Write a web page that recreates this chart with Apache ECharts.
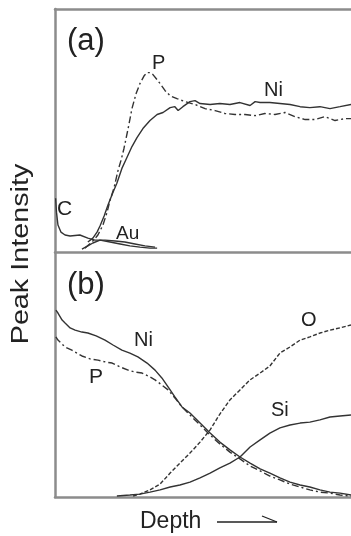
<!DOCTYPE html>
<html>
<head>
<meta charset="utf-8">
<script src="https://cdn.jsdelivr.net/npm/echarts@6/dist/echarts.min.js"></script>
<style>
  html, body { margin: 0; padding: 0; background: #fff; }
  #chart { width: 351px; height: 536px; }
</style>
</head>
<body>
<div id="chart"></div>
<script>
// Depth profiles (arbitrary units: depth 0-100, peak intensity 0-100)

// (a) as-deposited surface region
const niA = [[11.1,4.1],[12.8,5.7],[14.2,8.2],[15.2,10.7],[16.6,14.8],[17.9,19.3],[19.6,24.6],[20.9,28.3],[22.6,34.4],[24.3,38.9],[26.0,43.4],[27.7,47.1],[29.7,50.8],[32.1,54.1],[34.5,56.6],[36.5,57.4],[38.9,59.4],[40.5,59.8],[41.6,58.2],[43.2,59.8],[45.6,61.9],[47.3,62.3],[49.0,61.1],[52.4,60.7],[55.7,61.1],[59.1,60.7],[62.5,61.5],[65.9,60.3],[67.6,61.9],[69.3,61.5],[72.6,61.5],[76.0,61.1],[79.4,60.7],[82.8,59.8],[86.1,59.4],[89.5,59.8],[92.9,59.0],[96.3,59.8],[100,60.7]];
const pA = [[10.1,1.6],[12.5,4.1],[14.5,7.0],[16.2,11.1],[17.6,16.4],[18.6,21.3],[19.9,26.2],[21.3,33.6],[22.3,37.7],[23.3,42.6],[24.7,50.8],[26.0,59.0],[27.4,65.2],[28.7,69.3],[30.1,72.5],[31.1,73.8],[32.1,73.8],[33.1,73.0],[34.5,70.9],[35.5,69.3],[37.2,66.4],[38.9,64.3],[41.2,63.1],[43.9,61.9],[47.3,60.7],[50.7,59.0],[54.1,58.2],[57.4,57.0],[60.8,56.6],[64.2,56.6],[67.6,56.1],[70.9,57.0],[74.3,56.6],[77.7,57.4],[81.1,55.7],[84.5,54.5],[87.8,54.5],[91.2,55.7],[94.6,54.1],[98.0,54.9],[100,54.9]];
const cA = [[0.2,22.1],[0.5,16.4],[1.0,11.1],[2.0,8.2],[3.4,7.0],[5.1,6.6],[8.4,7.0],[11.1,5.7],[13.5,4.9],[16.9,4.9],[20.3,4.5],[23.6,4.1],[27.0,3.3],[30.4,2.5],[33.8,2.0]];
const auA = [[9.1,1.2],[11.1,2.5],[12.8,3.7],[15.2,4.9],[18.6,4.1],[22.0,3.3],[25.3,2.5],[28.7,2.0],[32.1,1.6],[34.5,1.6]];

// (b) after annealing
const niB = [[0.3,76.6],[1.0,75.4],[2.4,72.5],[3.4,71.3],[5.1,69.3],[6.8,68.4],[9.1,67.6],[11.1,67.2],[13.9,66.0],[16.9,64.3],[19.6,62.3],[22.6,60.2],[25.3,59.0],[28.0,57.4],[31.1,54.9],[33.8,52.0],[36.1,48.8],[38.2,45.1],[40.5,41.0],[42.9,36.9],[45.6,34.4],[49.0,30.3],[52.4,26.2],[55.7,22.5],[59.1,19.3],[62.5,16.4],[65.9,13.9],[69.3,11.5],[72.6,9.8],[76.0,7.8],[79.4,6.1],[82.8,4.9],[86.1,4.1],[89.5,2.9],[92.9,2.0],[96.3,1.6],[100,0.8]];
const pB = [[0.3,65.6],[1.0,64.3],[3.4,61.5],[5.7,60.2],[9.1,57.8],[11.8,56.6],[14.5,56.1],[17.2,55.3],[19.3,54.9],[22.0,53.3],[24.7,52.0],[27.0,51.2],[29.4,50.8],[32.1,49.2],[33.8,48.0],[36.1,45.9],[38.2,43.9],[40.5,40.6],[42.9,36.9],[45.6,33.6],[49.0,29.5],[52.4,25.4],[55.7,21.7],[59.1,18.4],[62.5,15.6],[65.9,12.7],[69.3,10.7],[72.6,8.6],[76.0,7.0],[79.4,5.3],[82.8,4.1],[86.1,2.9],[89.5,2.0],[92.9,1.6],[96.3,0.8],[100,0.4]];
const oB = [[26.4,0.4],[28.7,1.2],[32.1,2.9],[35.5,5.3],[38.9,9.8],[42.2,13.9],[45.6,18.0],[49.0,22.5],[52.4,27.5],[55.7,34.0],[59.1,39.8],[62.5,43.9],[65.9,48.0],[69.3,50.8],[72.6,53.7],[76.0,59.0],[79.4,61.5],[82.8,64.3],[86.1,65.6],[89.5,67.2],[92.9,68.4],[96.3,69.3],[100,70.5]];
const siB = [[20.9,0.4],[25.3,0.8],[28.7,1.2],[32.1,2.0],[35.5,2.9],[38.9,4.1],[42.2,4.9],[45.6,6.1],[49.0,7.8],[52.4,9.8],[55.7,11.9],[59.1,13.9],[62.5,16.4],[65.9,20.5],[69.3,23.4],[72.6,26.2],[76.0,28.3],[79.4,29.5],[82.8,30.3],[86.1,30.7],[89.5,31.6],[92.9,32.8],[96.3,33.2],[100,33.6]];

const INK = '#333333';
const FRAME = '#8c8c8c';
const SOLID = 'solid';
const DASHDOT = [7, 3, 2, 3];
const DASH = [4, 2];

function line(data, grid, type) {
  return {
    type: 'line', data: data, xAxisIndex: grid, yAxisIndex: grid,
    showSymbol: false, smooth: false, silent: true,
    lineStyle: { color: INK, width: 1.4, type: type }
  };
}

const axisX = (grid, pos) => ({
  type: 'value', gridIndex: grid, min: 0, max: 100, position: pos,
  axisLine: { show: true, onZero: false, lineStyle: { color: FRAME, width: 2.5 } },
  axisTick: { show: false }, axisLabel: { show: false }, splitLine: { show: false }
});
const axisY = (grid) => ({
  type: 'value', gridIndex: grid, min: 0, max: 100,
  axisLine: { show: true, onZero: false, lineStyle: { color: FRAME, width: 2.5 } },
  axisTick: { show: false }, axisLabel: { show: false }, splitLine: { show: false }
});

const FONT = '"Liberation Sans", Arial, sans-serif';
function txt(x, y, s, size, extra) {
  return Object.assign({
    type: 'text', x: x, y: y,
    style: { text: s, font: size + 'px ' + FONT, fill: '#222222', textAlign: 'left', textVerticalAlign: 'top' }
  }, extra || {});
}

const chart = echarts.init(document.getElementById('chart'), null, { renderer: 'canvas' });
chart.setOption({
  backgroundColor: '#ffffff',
  animation: false,
  grid: [
    { left: 55, top: 9, right: 0, height: 243 },
    { left: 55, top: 253, right: 0, height: 244 }
  ],
  xAxis: [axisX(0, 'bottom'), axisX(1, 'bottom'), axisX(0, 'top')],
  yAxis: [axisY(0), axisY(1)],
  series: [
    line(niA, 0, SOLID),
    line(pA, 0, DASHDOT),
    line(cA, 0, SOLID),
    line(auA, 0, SOLID),
    line(niB, 1, SOLID),
    line(pB, 1, DASHDOT),
    line(oB, 1, DASH),
    line(siB, 1, SOLID)
  ],
  graphic: [
    txt(67, 26, '(a)', 31),
    txt(152, 53, 'P', 20),
    txt(264, 80, 'Ni', 20),
    txt(57, 199, 'C', 21),
    txt(116, 224, 'Au', 19),
    txt(67, 270, '(b)', 31),
    txt(134, 330, 'Ni', 20),
    txt(89, 367, 'P', 21),
    txt(301, 310, 'O', 20),
    txt(271, 400, 'Si', 20),
    txt(140, 510, 'Depth', 23),
    {
      type: 'text', x: 22, y: 254, rotation: Math.PI / 2, scaleX: 1.25,
      style: { text: 'Peak Intensity', font: '23px ' + FONT, fill: '#222222', textAlign: 'center', textVerticalAlign: 'middle' }
    },
    { type: 'line', shape: { x1: 217, y1: 522, x2: 277, y2: 522 }, style: { stroke: '#222222', lineWidth: 1.3 } },
    { type: 'line', shape: { x1: 262, y1: 516, x2: 277, y2: 522 }, style: { stroke: '#222222', lineWidth: 1.3 } }
  ]
});
</script>
</body>
</html>
